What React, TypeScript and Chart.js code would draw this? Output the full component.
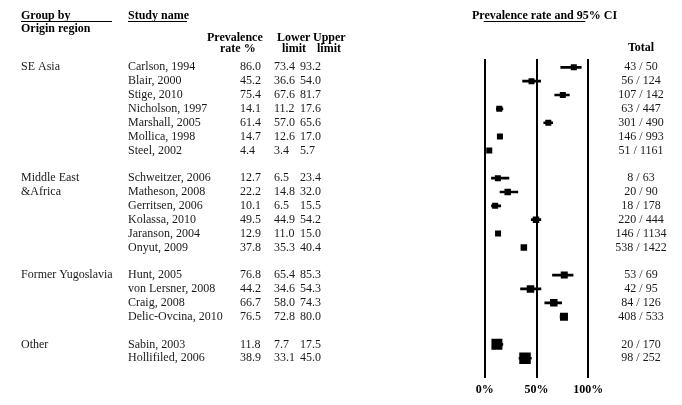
import React, { useEffect, useRef } from "react";
import { Chart, registerables } from "chart.js";

Chart.register(...registerables);

// ---------- data ----------
const groupNames: string[][] = [["SE Asia"], ["Middle East", "&Africa"], ["Former Yugoslavia"], ["Other"]];
const groupSizes: number[] = [7, 6, 4, 2];

const studies: string[] = [
  "Carlson, 1994", "Blair, 2000", "Stige, 2010", "Nicholson, 1997", "Marshall, 2005", "Mollica, 1998", "Steel, 2002",
  "Schweitzer, 2006", "Matheson, 2008", "Gerritsen, 2006", "Kolassa, 2010", "Jaranson, 2004", "Onyut, 2009",
  "Hunt, 2005", "von Lersner, 2008", "Craig, 2008", "Delic-Ovcina, 2010",
  "Sabin, 2003", "Hollifiled, 2006",
];
const rates: number[] = [86.0, 45.2, 75.4, 14.1, 61.4, 14.7, 4.4, 12.7, 22.2, 10.1, 49.5, 12.9, 37.8, 76.8, 44.2, 66.7, 76.5, 11.8, 38.9];
const lowerLimits: number[] = [73.4, 36.6, 67.6, 11.2, 57.0, 12.6, 3.4, 6.5, 14.8, 6.5, 44.9, 11.0, 35.3, 65.4, 34.6, 58.0, 72.8, 7.7, 33.1];
const upperLimits: number[] = [93.2, 54.0, 81.7, 17.6, 65.6, 17.0, 5.7, 23.4, 32.0, 15.5, 54.2, 15.0, 40.4, 85.3, 54.3, 74.3, 80.0, 17.5, 45.0];
const totals: string[] = [
  "43 / 50", "56 / 124", "107 / 142", "63 / 447", "301 / 490", "146 / 993", "51 / 1161",
  "8 / 63", "20 / 90", "18 / 178", "220 / 444", "146 / 1134", "538 / 1422",
  "53 / 69", "42 / 95", "84 / 126", "408 / 533",
  "20 / 170", "98 / 252",
];
// relative study weights (drive marker size)
const weights: number[] = [6, 6, 6, 6, 6, 6, 6, 6, 6.5, 6, 6.5, 6, 6.5, 7, 7.5, 7.5, 8, 11, 11.5];
const xTicks: number[] = [0, 50, 100];

// row index of each study (blank row between groups)
const rows: number[] = [];
const groupRows: number[] = [];
{
  let r = 0;
  groupSizes.forEach((n) => {
    groupRows.push(r);
    for (let k = 0; k < n; k++) rows.push(r++);
    r++;
  });
}

const SERIF = "'Liberation Serif', 'Times New Roman', serif";

const textPlugin = {
  id: "forestText",
  afterDraw(chart: any) {
    const ctx = chart.ctx as CanvasRenderingContext2D;
    const ys = chart.scales.y;
    const area = chart.chartArea;
    ctx.save();
    ctx.textBaseline = "middle";

    // headers
    ctx.fillStyle = "#000";
    ctx.font = `bold 12px ${SERIF}`;
    ctx.textAlign = "left";
    ctx.fillText("Group by", 21, 16);
    ctx.fillText("Origin region", 21, 29);
    ctx.fillText("Study name", 128, 16);
    ctx.fillText("Prevalence", 207, 37.5);
    ctx.fillText("rate %", 220, 49);
    ctx.fillText("Lower", 277, 37.5);
    ctx.fillText("Upper", 313, 37.5);
    ctx.fillText("limit", 282, 49);
    ctx.fillText("limit", 317, 49);
    ctx.fillText("Prevalence rate and 95% CI", 472, 16);
    ctx.textAlign = "center";
    ctx.fillText("Total", 641, 48);

    ctx.strokeStyle = "#000";
    ctx.lineWidth = 1;
    const ul = (x1: number, x2: number, y: number) => {
      ctx.beginPath();
      ctx.moveTo(x1, y);
      ctx.lineTo(x2, y);
      ctx.stroke();
    };
    ul(21, 112, 21.5);
    ul(128, 187, 21.5);
    ul(area.left - 1, area.right - 3, 21.5);

    // body
    ctx.fillStyle = "#1a1a1a";
    ctx.font = `12px ${SERIF}`;
    groupNames.forEach((lines, g) => {
      lines.forEach((t, k) => {
        ctx.textAlign = "left";
        ctx.fillText(t, 21, ys.getPixelForValue(groupRows[g] + k));
      });
    });
    studies.forEach((s, i) => {
      const y = ys.getPixelForValue(rows[i]);
      ctx.textAlign = "left";
      ctx.fillText(s, 128, y);
      ctx.fillText(rates[i].toFixed(1), 240, y);
      ctx.fillText(lowerLimits[i].toFixed(1), 274, y);
      ctx.fillText(upperLimits[i].toFixed(1), 300, y);
      ctx.textAlign = "center";
      ctx.fillText(totals[i], 641, y);
    });
    ctx.restore();
  },
};

export default function App() {
  const ref = useRef<HTMLCanvasElement>(null);
  useEffect(() => {
    if (!ref.current) return;
    const chart = new Chart(ref.current, {
      type: "scatter",
      data: {
        datasets: [
          {
            type: "scatter",
            data: studies.map((_, i) => ({ x: rates[i], y: rows[i] })),
            pointStyle: "rect",
            pointRadius: weights.map((w) => w / Math.SQRT2),
            pointHoverRadius: weights.map((w) => w / Math.SQRT2),
            pointBackgroundColor: "#000",
            pointBorderWidth: 0,
            borderWidth: 0,
          } as any,
          {
            type: "bar",
            indexAxis: "y",
            data: studies.map((_, i) => ({ x: [lowerLimits[i], upperLimits[i]], y: rows[i] })),
            backgroundColor: "#000",
            barThickness: 2,
            borderWidth: 0,
          } as any,
        ],
      },
      options: {
        animation: false,
        responsive: false,
        devicePixelRatio: 1,
        events: [],
        layout: { padding: { left: 484.7, right: 93.7, top: 59, bottom: 3 } },
        plugins: { legend: { display: false }, tooltip: { enabled: false } },
        scales: {
          x: {
            type: "linear",
            min: 0,
            max: 100,
            offset: false,
            afterBuildTicks: (s: any) => {
              s.ticks = xTicks.map((v) => ({ value: v }));
            },
            grid: { color: "#000", lineWidth: 2, drawTicks: false, offset: false },
            border: { display: false },
            ticks: {
              font: { family: SERIF, size: 12, weight: "bold" },
              color: "#000",
              padding: 5,
              callback: (v: any) => v + "%",
            },
          },
          y: {
            type: "linear",
            reverse: true,
            min: -0.6,
            max: 22.4,
            offset: false,
            grid: { offset: false },
            display: false,
          },
        },
      } as any,
      plugins: [textPlugin],
    });
    return () => chart.destroy();
  }, []);
  return (
    <div style={{ position: "absolute", left: 0, top: 0, width: 682, height: 405, background: "#fff" }}>
      <canvas ref={ref} width={682} height={405} style={{ width: 682, height: 405 }} />
    </div>
  );
}
